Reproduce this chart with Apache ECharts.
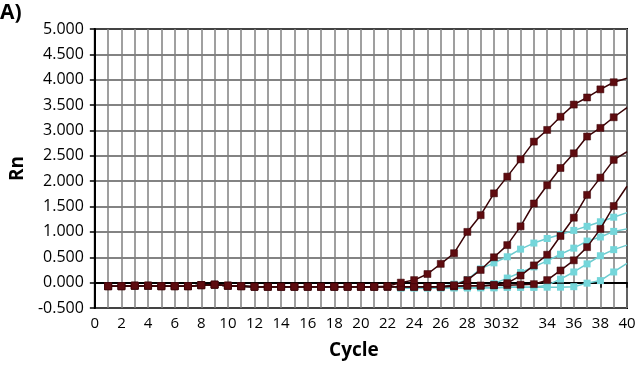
<!DOCTYPE html>
<html>
<head>
<meta charset="utf-8">
<script src="https://cdn.jsdelivr.net/npm/echarts@6/dist/echarts.min.js"></script>
<style>
html,body{margin:0;padding:0;background:#fff;}
#chart{width:640px;height:377px;}
</style>
</head>
<body>
<div id="chart"></div>
<script>
var cycles = [1,2,3,4,5,6,7,8,9,10,11,12,13,14,15,16,17,18,19,20,21,22,23,24,25,26,27,28,29,30,31,32,33,34,35,36,37,38,39,40];

// baseline shared by all curves, cycles 1..22
var brown1 = [-0.07,-0.07,-0.06,-0.06,-0.07,-0.07,-0.07,-0.05,-0.04,-0.06,-0.07,-0.08,-0.08,-0.08,-0.08,-0.08,-0.08,-0.08,-0.08,-0.08,-0.08,-0.07,
  0.00,0.05,0.17,0.37,0.58,1.00,1.33,1.76,2.09,2.43,2.78,3.01,3.27,3.51,3.65,3.81,3.95,4.03];
var brown2 = [-0.07,-0.07,-0.06,-0.06,-0.07,-0.07,-0.07,-0.05,-0.04,-0.06,-0.07,-0.08,-0.08,-0.08,-0.08,-0.08,-0.08,-0.08,-0.08,-0.08,-0.08,-0.08,
  -0.08,-0.08,-0.08,-0.08,-0.05,0.05,0.25,0.50,0.74,1.11,1.56,1.92,2.26,2.55,2.88,3.05,3.26,3.45];
var brown3 = [-0.07,-0.07,-0.06,-0.06,-0.07,-0.07,-0.07,-0.05,-0.04,-0.06,-0.07,-0.08,-0.08,-0.08,-0.08,-0.08,-0.08,-0.08,-0.08,-0.08,-0.08,-0.08,
  -0.08,-0.08,-0.08,-0.08,-0.07,-0.06,-0.06,-0.05,-0.01,0.14,0.34,0.55,0.92,1.28,1.73,2.07,2.42,2.58];
var brown4 = [-0.07,-0.07,-0.06,-0.06,-0.07,-0.07,-0.07,-0.05,-0.04,-0.06,-0.07,-0.08,-0.08,-0.08,-0.08,-0.08,-0.08,-0.08,-0.08,-0.08,-0.08,-0.08,
  -0.08,-0.08,-0.08,-0.08,-0.07,-0.06,-0.06,-0.05,-0.05,-0.04,-0.03,0.05,0.24,0.44,0.70,1.06,1.51,1.90];

var cyan1 = [-0.07,-0.07,-0.06,-0.06,-0.07,-0.07,-0.07,-0.05,-0.04,-0.06,-0.07,-0.08,-0.08,-0.08,-0.08,-0.08,-0.08,-0.08,-0.08,-0.08,-0.08,-0.08,
  -0.10,-0.10,-0.10,-0.08,-0.03,0.06,0.27,0.39,0.51,0.66,0.78,0.87,0.95,1.03,1.11,1.20,1.29,1.38];
var cyan2 = [-0.07,-0.07,-0.06,-0.06,-0.07,-0.07,-0.07,-0.05,-0.04,-0.06,-0.07,-0.08,-0.08,-0.08,-0.08,-0.08,-0.08,-0.08,-0.08,-0.08,-0.08,-0.08,
  -0.10,-0.10,-0.10,-0.10,-0.10,-0.10,-0.09,-0.02,0.09,0.20,0.31,0.43,0.56,0.68,0.82,0.90,1.01,1.06];
var cyan3 = [-0.07,-0.07,-0.06,-0.06,-0.07,-0.07,-0.07,-0.05,-0.04,-0.06,-0.07,-0.08,-0.08,-0.08,-0.08,-0.08,-0.08,-0.08,-0.08,-0.08,-0.08,-0.08,
  -0.10,-0.10,-0.10,-0.10,-0.10,-0.10,-0.10,-0.10,-0.09,-0.09,-0.09,-0.05,0.07,0.21,0.37,0.53,0.65,0.74];
var cyan4 = [-0.07,-0.07,-0.06,-0.06,-0.07,-0.07,-0.07,-0.05,-0.04,-0.06,-0.07,-0.08,-0.08,-0.08,-0.08,-0.08,-0.08,-0.08,-0.08,-0.08,-0.08,-0.08,
  -0.10,-0.10,-0.10,-0.10,-0.10,-0.10,-0.10,-0.10,-0.09,-0.09,-0.09,-0.09,-0.09,-0.08,-0.01,0.04,0.21,0.38];

var xTickLabels = ['0','2','4','6','8','10','12','14','16','18','20','22','24','26','28','30','32','34','36','38','40'];

var FONT = 'Open Sans';
function pairs(vals){ return cycles.map(function(c,i){ return [c, vals[i]]; }); }
function sym(v){ return v[0] >= 40 ? 0 : 7; }
function symC(v){ return v[0] >= 40 ? 0 : 7; }

function brownSeries(vals){
  return {type:'line', data:pairs(vals), symbol:'rect', symbolSize:sym,
    lineStyle:{color:'#3a0306', width:1.5},
    itemStyle:{color:'#5e0c10', borderColor:'#3a0306', borderWidth:0.5},
    z:3, silent:true};
}
function cyanSeries(vals){
  return {type:'line', data:pairs(vals), symbol:'rect', symbolSize:symC,
    lineStyle:{color:'#6ccbcf', width:1.5},
    itemStyle:{color:'#74d6da'},
    z:2, silent:true};
}

var chart = echarts.init(document.getElementById('chart'), null, {renderer:'canvas'});
chart.setOption({
  animation:false,
  backgroundColor:'#fff',
  graphic:[{type:'text', left:0, top:3, style:{text:'A)', font:'bold 21px "Open Sans"', fill:'#000'}}],
  grid:{left:85, right:13, top:29, bottom:69, show:true, borderColor:'#000', borderWidth:2, backgroundColor:'transparent'},
  xAxis:{
    type:'value', min:0, max:40, interval:2,
    name:'Cycle', nameLocation:'middle', nameGap:33,
    nameTextStyle:{fontFamily:FONT, fontSize:19, fontWeight:'bold', color:'#000', padding:[0,14,0,0]},
    axisLine:{show:true, lineStyle:{color:'#000', width:2}},
    axisTick:{show:true, length:5, lineStyle:{color:'#000', width:1.5}},
    minorTick:{show:true, splitNumber:2, length:0, lineStyle:{color:'rgba(0,0,0,0)', width:0}},
    splitLine:{show:true, lineStyle:{color:'#808080', width:1.5}},
    minorSplitLine:{show:true, lineStyle:{color:'#808080', width:1.5}},
    axisLabel:{margin:8, fontFamily:FONT, fontSize:15, color:'#000',
      formatter:function(v){
        var s = xTickLabels[Math.round(v/2)];
        if (v === 32) return '{l|' + s + '}';
        if (v === 30) return '{m|' + s + '}';
        return s;
      },
      rich:{
        l:{fontFamily:FONT, fontSize:15, color:'#000', padding:[0,20,0,0]},
        m:{fontFamily:FONT, fontSize:15, color:'#000', padding:[0,4,0,0]}
      }
    }
  },
  yAxis:{
    type:'value', min:-0.5, max:5, interval:0.5,
    name:'Rn', nameLocation:'middle', nameGap:66, nameRotate:90,
    nameTextStyle:{fontFamily:FONT, fontSize:19, fontWeight:'bold', color:'#000'},
    axisLine:{show:true, lineStyle:{color:'#000', width:2}},
    axisTick:{show:true, length:5, lineStyle:{color:'#000', width:1.5}},
    splitLine:{show:true, lineStyle:{color:'#5a5a5a', width:1.5}},
    axisLabel:{margin:11, fontFamily:FONT, fontSize:16, color:'#000',
      formatter:function(v){ return v.toFixed(3); }}
  },
  series:[
    cyanSeries(cyan4), cyanSeries(cyan3), cyanSeries(cyan2), cyanSeries(cyan1),
    brownSeries(brown4), brownSeries(brown3), brownSeries(brown2), brownSeries(brown1)
  ]
});
</script>
</body>
</html>
